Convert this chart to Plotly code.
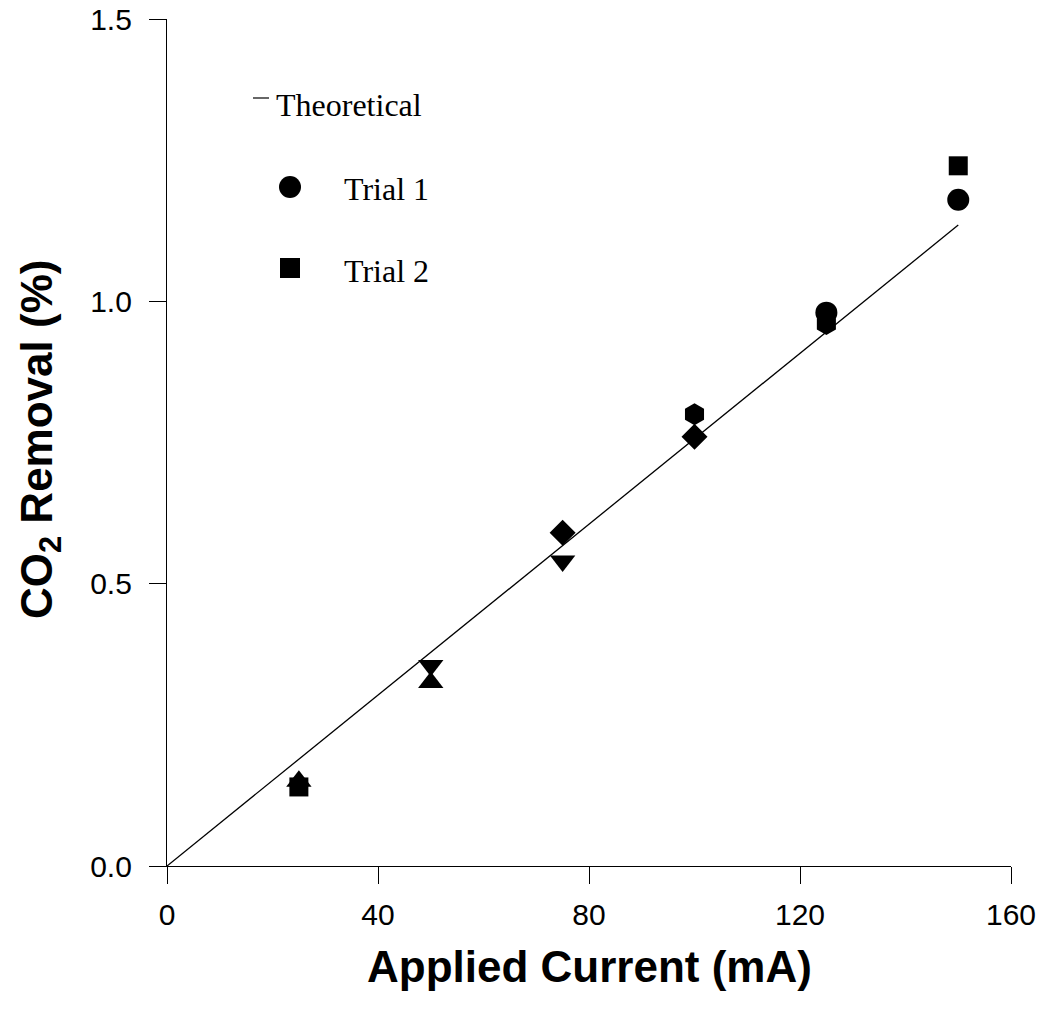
import plotly.graph_objects as go

# ---- data ----
current = [25, 50, 75, 100, 125, 150]
trial1 = [0.15, 0.355, 0.59, 0.80, 0.98, 1.18]
trial2 = [0.14, 0.325, 0.54, 0.76, 0.96, 1.24]
theory_x = [0, 150]
theory_y = [0, 1.135]

x_ticks = [0, 40, 80, 120, 160]
y_ticks = [0.0, 0.5, 1.0, 1.5]
y_tick_labels = ["0.0", "0.5", "1.0", "1.5"]

# ---- styling ----
sym1 = ["triangle-up", "triangle-down", "diamond", "hexagon", "circle", "circle"]
sym2 = ["square", "triangle-up", "triangle-down", "diamond", "hexagon", "square"]
size1 = [22, 22, 20, 22, 22, 22]
size2 = [19, 22, 22, 20, 22, 19]

L, R, T, B = 167, 34, 19, 147
W, H = 1045, 1013
pw, ph = W - L - R, H - T - B

def px(x):
    return (x - L) / pw

def py(y):
    return (H - B - y) / ph

fig = go.Figure()
fig.add_trace(go.Scatter(x=theory_x, y=theory_y, mode="lines",
                         line=dict(color="black", width=1.3), showlegend=False))
fig.add_trace(go.Scatter(x=current, y=trial1, mode="markers", opacity=1,
                         marker=dict(symbol=sym1, size=size1, color="#000000", opacity=1,
                                     line=dict(width=0, color="#000000")),
                         showlegend=False))
fig.add_trace(go.Scatter(x=current, y=trial2, mode="markers", opacity=1,
                         marker=dict(symbol=sym2, size=size2, color="#000000", opacity=1,
                                     line=dict(width=0, color="#000000")),
                         showlegend=False))

axis_font = dict(family="Liberation Sans, Arial", size=30, color="black")
fig.update_xaxes(range=[0, 160], tickvals=x_ticks, ticks="outside", ticklen=17, tickwidth=1.3,
                 tickcolor="black", showline=True, linecolor="black", linewidth=1.3,
                 showgrid=False, zeroline=False, tickfont=axis_font, ticklabelstandoff=5,
                 automargin=False)
fig.update_yaxes(range=[0, 1.5], tickvals=y_ticks, ticktext=y_tick_labels, ticks="outside",
                 ticklen=17, tickwidth=1.3, tickcolor="black", showline=True, linecolor="black",
                 linewidth=1.3, showgrid=False, zeroline=False, tickfont=axis_font,
                 ticklabelstandoff=11, automargin=False)

title_font = dict(family="Liberation Sans, Arial", size=44, color="black")
annotations = [
    dict(text="<b>Applied Current (mA)</b>", x=px(589), y=py(966), xref="paper", yref="paper",
         showarrow=False, font=title_font, xanchor="center", yanchor="middle"),
    dict(text="<b>CO<sub>2</sub> Removal (%)</b>", x=px(40), y=py(440), xref="paper", yref="paper",
         showarrow=False, font=title_font, textangle=-90, xanchor="center", yanchor="middle"),
]
serif = dict(family="Liberation Serif, Times New Roman", size=32, color="black")
annotations += [
    dict(text="Theoretical", x=px(274), y=py(105), xref="paper", yref="paper", showarrow=False,
         font=serif, xanchor="left", yanchor="middle"),
    dict(text="Trial 1", x=px(342), y=py(189), xref="paper", yref="paper", showarrow=False,
         font=serif, xanchor="left", yanchor="middle"),
    dict(text="Trial 2", x=px(342), y=py(271), xref="paper", yref="paper", showarrow=False,
         font=serif, xanchor="left", yanchor="middle"),
]
shapes = [
    dict(type="line", xref="paper", yref="paper", x0=px(253), x1=px(269), y0=py(98), y1=py(98),
         line=dict(color="black", width=1.2)),
    dict(type="circle", xref="paper", yref="paper", x0=px(279), x1=px(301), y0=py(176), y1=py(198),
         fillcolor="black", line=dict(width=0)),
    dict(type="rect", xref="paper", yref="paper", x0=px(280), x1=px(300), y0=py(258), y1=py(278),
         fillcolor="black", line=dict(width=0)),
]

fig.update_layout(width=W, height=H, margin=dict(l=L, r=R, t=T, b=B, autoexpand=False),
                  plot_bgcolor="white", paper_bgcolor="white",
                  annotations=annotations, shapes=shapes, showlegend=False)

fig.write_html("out.html")
